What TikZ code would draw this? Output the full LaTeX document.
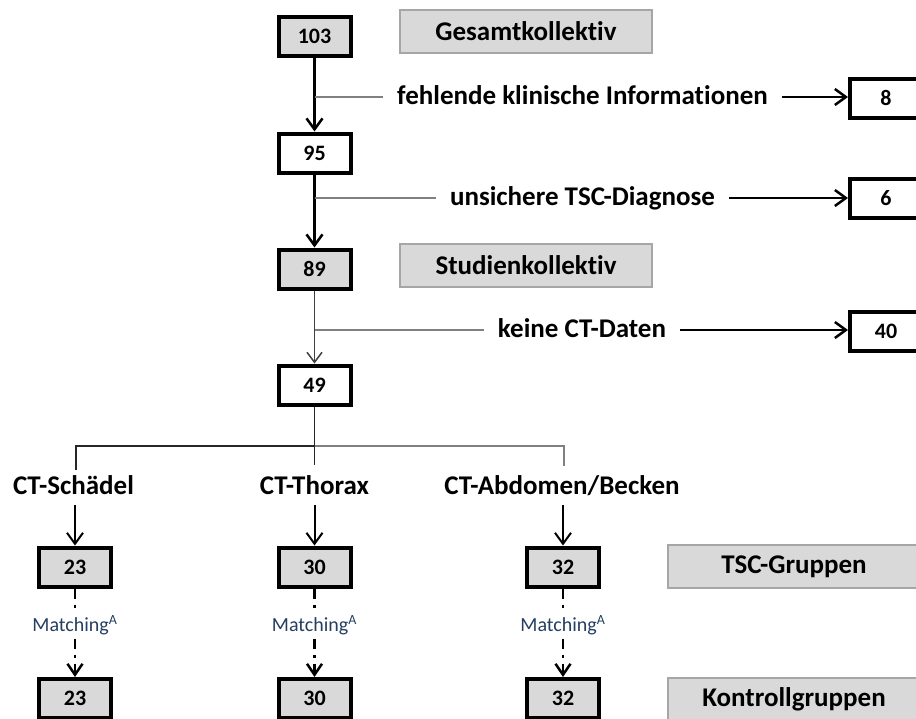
\documentclass[tikz,border=0pt]{standalone}
\usepackage{fontspec}
\setmainfont[Ligatures={NoCommon,NoRequired,NoContextual}]{Carlito}
\usetikzlibrary{arrows.meta}
\definecolor{boxgray}{HTML}{D9D9D9}
\definecolor{bordergray}{HTML}{A6A6A6}
\definecolor{linegray}{HTML}{808080}
\definecolor{darkline}{HTML}{404040}
\definecolor{matchblue}{HTML}{243F60}
\tikzset{
  numbox/.style={draw=black, line width=4pt, minimum width=72pt, minimum height=39pt, inner sep=0pt, font=\fontsize{22}{22}\selectfont\bfseries},
  grayfill/.style={fill=boxgray},
  labelbox/.style={draw=bordergray, fill=boxgray, line width=2pt, minimum width=252pt, minimum height=43pt, inner sep=0pt, font=\fontsize{27}{28}\selectfont\bfseries},
  branchtxt/.style={font=\fontsize{27}{28}\selectfont\bfseries, inner ysep=0pt, inner xsep=14pt, anchor=base},
  cttxt/.style={font=\fontsize{27}{28}\selectfont\bfseries, inner sep=0pt, anchor=base},
  barb/.style={-{Straight Barb[length=11pt,width=16pt]}},
  mainarrow/.style={barb, line width=2.5pt, black},
  thinarrow/.style={-{Straight Barb[length=10pt,width=15pt]}, line width=1.5pt, darkline},
  sidearrow/.style={barb, line width=2.5pt, black},
  grayline/.style={line width=2pt, linegray},
  treeblack/.style={line width=1.6pt, black!85},
  treegray/.style={line width=1.6pt, linegray},
  downarrow/.style={barb, line width=2pt, black},
  dasharrow/.style={-{Straight Barb[length=11pt,width=15pt]}, line width=2.5pt, black, dash pattern=on 10pt off 6pt on 3pt off 6pt},
  matchlbl/.style={fill=white, inner sep=2pt, text=matchblue, font=\fontsize{20}{21}\selectfont}
}
\begin{document}
\begin{tikzpicture}[x=1pt,y=-1pt]
\useasboundingbox (0,0) rectangle (916,718);
\clip (0,0) rectangle (916,718);

% main column
\node[numbox,grayfill] (n103) at (314.5,36) {103};
\node[labelbox] (gk) at (526,31.5) {Gesamtkollektiv};
\node[numbox] (n95) at (314.5,153) {95};
\node[numbox,grayfill] (n89) at (314.5,269) {89};
\node[labelbox] (sk) at (526,265) {Studienkollektiv};
\node[numbox] (n49) at (314.5,385) {49};

% excluded boxes
\node[numbox] (n8) at (886,98) {8};
\node[numbox] (n6) at (886,198.5) {6};
\node[numbox] (n40) at (886,331) {40};

% branch texts
\node[branchtxt] (t1) at (582.5,104) {fehlende klinische Informationen};
\node[branchtxt] (t2) at (582.5,205) {unsichere TSC-Diagnose};
\node[branchtxt] (t3) at (582,337) {keine CT-Daten};

\coordinate (b1) at (314.5,97);
\coordinate (b2) at (314.5,198);
\coordinate (b3) at (314.5,330);

\draw[mainarrow] (n103.south) -- (n95.north);
\draw[mainarrow] (n95.south) -- (n89.north);
\draw[thinarrow] (n89.south) -- (n49.north);

\draw[grayline] (b1) -- (b1 -| t1.west);
\draw[grayline] (b2) -- (b2 -| t2.west);
\draw[grayline] (b3) -- (b3 -| t3.west);
\draw[sidearrow] (b1 -| t1.east) -- (b1 -| n8.west);
\draw[sidearrow] (b2 -| t2.east) -- (b2 -| n6.west);
\draw[sidearrow] (b3 -| t3.east) -- (b3 -| n40.west);

% tree
\coordinate (j) at (314.5,446);
\coordinate (jl) at (76,446);
\coordinate (jr) at (564,446);
\coordinate (dl) at (76,470);
\coordinate (dc) at (314.5,465);
\coordinate (dr) at (564,466);
\draw[treeblack] (n49.south) -- (dc);
\draw[treeblack] (j) -- (jl) -- (dl);
\draw[treegray] (j) -- (jr) -- (dr);

\node[cttxt] (cs) at (73.5,494) {CT-Schädel};
\node[cttxt] (ct) at (314.5,494) {CT-Thorax};
\node[cttxt] (ca) at (562,494) {CT-Abdomen/Becken};

% TSC groups
\node[numbox,grayfill] (t23) at (75,567) {23};
\node[numbox,grayfill] (t30) at (314.5,567) {30};
\node[numbox,grayfill] (t32) at (563,567) {32};
\node[labelbox] (tscg) at (794,566.5) {TSC-Gruppen};

\coordinate (a1) at (75,505);
\coordinate (a2) at (314.5,505);
\coordinate (a3) at (563,505);
\draw[downarrow] (a1) -- (t23.north);
\draw[downarrow] (a2) -- (t30.north);
\draw[downarrow] (a3) -- (t32.north);

% control groups
\node[numbox,grayfill] (k23) at (75,698.5) {23};
\node[numbox,grayfill] (k30) at (314.5,698.5) {30};
\node[numbox,grayfill] (k32) at (563,698.5) {32};
\node[labelbox] (kg) at (794,699.5) {Kontrollgruppen};

\draw[dasharrow] (t23.south) -- node[matchlbl,pos=0.415]{Matching\textsuperscript{A}} (k23.north);
\draw[dasharrow] (t30.south) -- node[matchlbl,pos=0.415]{Matching\textsuperscript{A}} (k30.north);
\draw[dasharrow] (t32.south) -- node[matchlbl,pos=0.415]{Matching\textsuperscript{A}} (k32.north);
\end{tikzpicture}
\end{document}
